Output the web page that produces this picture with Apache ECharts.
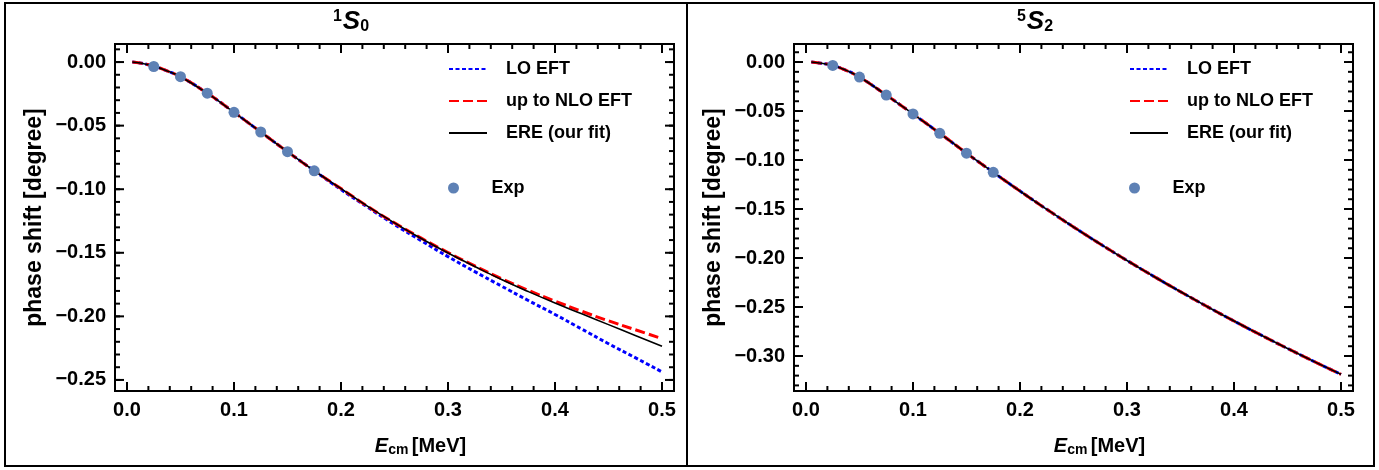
<!DOCTYPE html>
<html>
<head>
<meta charset="utf-8">
<script src="https://cdn.jsdelivr.net/npm/echarts@6/dist/echarts.min.js"></script>
<style>
  html, body { margin: 0; padding: 0; background: #fff; }
  #chart { width: 1379px; height: 470px; }
</style>
</head>
<body>
<div id="chart"></div>
<script>
const energy = [0.005, 0.0125, 0.025, 0.0375, 0.05, 0.075, 0.1, 0.125, 0.15, 0.175, 0.2, 0.225, 0.25,
  0.275, 0.3, 0.325, 0.35, 0.375, 0.4, 0.425, 0.45, 0.475, 0.5];

// 1S0 panel
const s10Lo = [0, -0.0008, -0.0032, -0.007, -0.0115, -0.0245, -0.0395, -0.055, -0.0705, -0.0855, -0.1003,
  -0.1142, -0.1278, -0.1405, -0.153, -0.1648, -0.1762, -0.1875, -0.1985, -0.21, -0.2215, -0.2325, -0.2437];
const s10Nlo = [0, -0.0008, -0.0032, -0.007, -0.0115, -0.0245, -0.0395, -0.055, -0.0705, -0.0855, -0.0995,
  -0.1135, -0.1265, -0.1385, -0.1498, -0.1603, -0.1703, -0.1795, -0.188, -0.196, -0.2035, -0.2105, -0.2175];
const s10Ere = [0, -0.0008, -0.0032, -0.007, -0.0115, -0.0245, -0.0395, -0.055, -0.0705, -0.0855, -0.0995,
  -0.1135, -0.1265, -0.1388, -0.1502, -0.1608, -0.171, -0.1805, -0.1895, -0.198, -0.2065, -0.215, -0.2235];

// 5S2 panel (the three curves lie on top of each other)
const s52Lo = [0, -0.001, -0.0035, -0.0085, -0.0153, -0.0337, -0.053, -0.0727, -0.093, -0.1125, -0.1317,
  -0.1503, -0.1683, -0.1857, -0.2025, -0.2187, -0.2344, -0.2496, -0.2643, -0.2785, -0.2923, -0.3057, -0.3187];
const s52Nlo = [0, -0.001, -0.0035, -0.0085, -0.0153, -0.0337, -0.053, -0.0727, -0.093, -0.1125, -0.1317,
  -0.1503, -0.1683, -0.1857, -0.2025, -0.2187, -0.2344, -0.2496, -0.2643, -0.2785, -0.2923, -0.3057, -0.3187];
const s52Ere = [0, -0.001, -0.0035, -0.0085, -0.0153, -0.0337, -0.053, -0.0727, -0.093, -0.1125, -0.1317,
  -0.1503, -0.1683, -0.1857, -0.2025, -0.2187, -0.2344, -0.2496, -0.2643, -0.2785, -0.2923, -0.3057, -0.3187];

// experimental points
const expEnergy = [0.025, 0.05, 0.075, 0.1, 0.125, 0.15, 0.175];
const s10Exp = [-0.0035, -0.0115, -0.0245, -0.0395, -0.055, -0.0705, -0.0855];
const s52Exp = [-0.0035, -0.0153, -0.0337, -0.053, -0.0727, -0.093, -0.1125];

// tick labels
const xTicks = [0, 0.1, 0.2, 0.3, 0.4, 0.5];
const s10YTicks = [0, -0.05, -0.1, -0.15, -0.2, -0.25];
const s52YTicks = [0, -0.05, -0.1, -0.15, -0.2, -0.25, -0.3];

const FONT = 'Liberation Sans';
const pair = (xs, ys) => xs.map((x, i) => [x, ys[i]]);
const steps = (from, to, step) => {
  const out = [];
  const n = Math.round((to - from) / step);
  for (let i = 0; i <= n; i++) out.push(+(from + i * step).toFixed(4));
  return out;
};
const fmtX = v => v.toFixed(1);
const fmtY = v => (v < 0 ? '\u2212' : '') + Math.abs(v).toFixed(2);

const GRID_TOP = 44, GRID_H = 347, GRID_W = 559;
const panels = [
  { left: 115, yMin: -0.2587, yMax: 0.0142, yTicks: s10YTicks, minorY: steps(-0.25, 0.01, 0.01),
    lo: s10Lo, nlo: s10Nlo, ere: s10Ere, exp: s10Exp, title: '{sup|1}{s|S}{sub|0}', titleX: 346, legendX: 443 },
  { left: 794, yMin: -0.3357, yMax: 0.0184, yTicks: s52YTicks, minorY: steps(-0.33, 0.01, 0.01),
    lo: s52Lo, nlo: s52Nlo, ere: s52Ere, exp: s52Exp, title: '{sup|5}{s|S}{sub|2}', titleX: 1030, legendX: 1124 }
];
const minorX = steps(0, 0.5, 0.02);

const grid = [], xAxis = [], yAxis = [], series = [], legend = [], title = [];
const bold = (size, extra) => Object.assign({ fontFamily: FONT, fontSize: size, fontWeight: 'bold', color: '#000' }, extra || {});

panels.forEach((p, g) => {
  grid.push({ left: p.left, top: GRID_TOP, width: GRID_W, height: GRID_H, show: true, borderColor: '#000', borderWidth: 2 });
  xAxis.push({
    type: 'value', gridIndex: g, min: -0.0112, max: 0.5112, position: 'bottom',
    splitLine: { show: false }, axisLine: { show: false, onZero: false }, axisTick: { show: false },
    name: '{i|E}{sub|cm} {n|[MeV]}', nameLocation: 'middle', nameGap: 44,
    nameTextStyle: { padding: [0, 0, 0, 52], rich: {
      i: bold(20, { fontStyle: 'italic' }),
      sub: bold(14, { verticalAlign: 'bottom', padding: [8, 0, 0, 0] }),
      n: bold(20) } },
    axisLabel: Object.assign(bold(20), { customValues: xTicks, formatter: fmtX, margin: 9 })
  });
  yAxis.push({
    type: 'value', gridIndex: g, min: p.yMin, max: p.yMax, position: 'left',
    splitLine: { show: false }, axisLine: { show: false, onZero: false }, axisTick: { show: false },
    name: 'phase shift [degree]', nameLocation: 'middle', nameGap: 69, nameRotate: 90,
    nameTextStyle: bold(23),
    axisLabel: Object.assign(bold(20), { customValues: p.yTicks, formatter: fmtY, margin: 9 })
  });

  series.push(
    { name: 'LO EFT', type: 'line', xAxisIndex: g, yAxisIndex: g, data: pair(energy, p.lo), symbol: 'none', smooth: true,
      lineStyle: { color: '#0000ff', width: 3, type: [4, 2.5] }, itemStyle: { color: '#0000ff' }, z: 2 },
    { name: 'up to NLO EFT', type: 'line', xAxisIndex: g, yAxisIndex: g, data: pair(energy, p.nlo), symbol: 'none', smooth: true,
      lineStyle: { color: '#ff0000', width: 3, type: [10, 4] }, itemStyle: { color: '#ff0000' }, z: 3 },
    { name: 'ERE (our fit)', type: 'line', xAxisIndex: g, yAxisIndex: g, data: pair(energy, p.ere), symbol: 'none', smooth: true,
      lineStyle: { color: '#000', width: 1.6 }, itemStyle: { color: '#000' }, z: 4 },
    { name: 'Exp', type: 'scatter', xAxisIndex: g, yAxisIndex: g, data: pair(expEnergy, p.exp), symbolSize: 11,
      itemStyle: { color: '#5e81b5', opacity: 1 }, z: 5 }
  );

  const legendText = bold(18, { lineHeight: 18, padding: [0, 0, 0, 14] });
  legend.push({ orient: 'vertical', left: p.legendX, top: 55, itemWidth: 38, itemHeight: 14, itemGap: 14,
    selectedMode: false, itemStyle: { opacity: 0 }, textStyle: legendText,
    data: ['LO EFT', 'up to NLO EFT', 'ERE (our fit)'] });
  legend.push({ orient: 'vertical', left: p.legendX, top: 174, itemWidth: 38, itemHeight: 11,
    selectedMode: false, textStyle: legendText, data: ['Exp'] });

  title.push({ text: p.title, left: p.titleX, top: 4, textAlign: 'center',
    textStyle: { rich: {
      sup: bold(16, { verticalAlign: 'top', padding: [0, 1, 10, 0] }),
      s: bold(26, { fontStyle: 'italic' }),
      sub: bold(16, { verticalAlign: 'bottom', padding: [10, 0, 0, 0] }) } } });
});

const chart = echarts.init(document.getElementById('chart'));
chart.setOption({
  animation: false,
  backgroundColor: '#fff',
  title, grid, xAxis, yAxis, series, legend
});

// frame ticks on all four sides, placed through each grid's own scales
const graphic = [
  { type: 'rect', shape: { x: 5, y: 3, width: 1369, height: 463 }, style: { fill: 'none', stroke: '#000', lineWidth: 2 } },
  { type: 'line', shape: { x1: 687, y1: 3, x2: 687, y2: 466 }, style: { stroke: '#000', lineWidth: 2 } }
];
panels.forEach((p, g) => {
  const top = GRID_TOP, bottom = GRID_TOP + GRID_H, left = p.left, right = p.left + GRID_W;
  const tick = (x1, y1, x2, y2) => graphic.push({ type: 'line', z: 10, silent: true,
    shape: { x1, y1, x2, y2 }, style: { stroke: '#000', lineWidth: 2 } });
  const xTick = v => {
    const px = chart.convertToPixel({ xAxisIndex: g }, v);
    return len => { tick(px, bottom, px, bottom - len); tick(px, top, px, top + len); };
  };
  const yTick = v => {
    const py = chart.convertToPixel({ yAxisIndex: g }, v);
    return len => { tick(left, py, left + len, py); tick(right, py, right - len, py); };
  };
  minorX.forEach(v => xTick(v)(5));
  xTicks.forEach(v => xTick(v)(9));
  p.minorY.forEach(v => yTick(v)(5));
  p.yTicks.forEach(v => yTick(v)(9));
});
chart.setOption({ graphic });
</script>
</body>
</html>
